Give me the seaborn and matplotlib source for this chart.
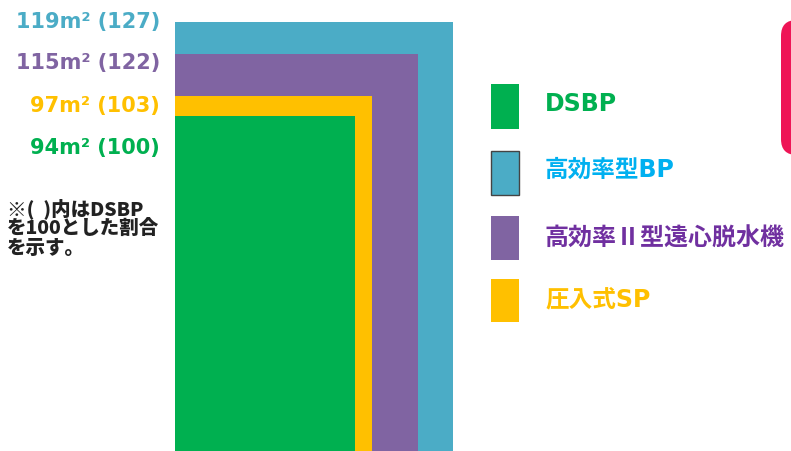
import matplotlib
matplotlib.use("Agg")
import matplotlib.pyplot as plt
from matplotlib.patches import Rectangle, FancyBboxPatch
import seaborn as sns

sns.set_theme(style="white")
plt.rcParams['font.family'] = ['DejaVu Sans', 'Noto Sans CJK JP']

# ---- data ----
methods = ["高効率型BP", "高効率Ⅱ型遠心脱水機", "圧入式SP", "DSBP"]
areas = [119, 115, 97, 94]            # m2
ratios = [127, 122, 103, 100]         # DSBP = 100
rect_widths = [278, 243, 197, 180]    # relative footprint width
rect_heights = [429, 397, 355, 335]   # relative footprint depth
fill_colors = ["#4BACC6", "#8064A2", "#FFC000", "#00B050"]
label_colors = ["#4BACC6", "#8064A2", "#FFC000", "#00B050"]
legend_order = ["DSBP", "高効率型BP", "高効率Ⅱ型遠心脱水機", "圧入式SP"]
legend_text_colors = {"DSBP": "#00B050", "高効率型BP": "#00B0F0",
                      "高効率Ⅱ型遠心脱水機": "#7030A0", "圧入式SP": "#FFC000"}
note = "※(  )内はDSBP\nを100とした割合\nを示す。"

W, H = 791, 452
fig = plt.figure(figsize=(W / 100, H / 100), dpi=100)
ax = fig.add_axes([0, 0, 1, 1])
ax.set_xlim(-175, W - 175)
ax.set_ylim(0, H)
ax.axis("off")

for m, w, h, c in zip(methods, rect_widths, rect_heights, fill_colors):
    ax.bar(0, h, width=w, align="edge", color=c, linewidth=0, zorder=2)

def fx(px):
    return px / W

def fy(py):
    return 1 - py / H

# value labels
label_y = [22, 63, 106, 148]
for a, r, c, y in zip(areas, ratios, label_colors, label_y):
    fig.text(fx(160), fy(y), f"{a}m² ({r})", color=c, fontsize=15,
             fontweight="bold", ha="right", va="center", family="DejaVu Sans")

# note
fig.text(fx(7), fy(198), note, color="#222222", fontsize=14, fontweight="heavy",
         ha="left", va="top", linespacing=1.02,
         family=['Noto Sans CJK JP', 'DejaVu Sans'])

# legend
patch_tops = [85, 152, 217, 280]
patch_h = [45, 44, 44, 43]
text_y = [104, 170, 239, 299]
for name, t, hh, ty in zip(legend_order, patch_tops, patch_h, text_y):
    c = fill_colors[methods.index(name)]
    ec = "#444444" if name == "高効率型BP" else c
    fam = ['Noto Sans CJK JP', 'DejaVu Sans'] if "Ⅱ" in name else ['DejaVu Sans', 'Noto Sans CJK JP']
    fig.patches.append(Rectangle((fx(491), fy(t + hh)), 28 / W, hh / H,
                                 transform=fig.transFigure, facecolor=c,
                                 edgecolor=ec, linewidth=1.0 if ec != c else 0))
    fig.text(fx(545), fy(ty), name, color=legend_text_colors[name],
             fontsize=17.3 if "Ⅱ" in name else 17,
             fontweight="bold", ha="left", va="center", family=fam)

# decorative red box at right edge
fig.patches.append(FancyBboxPatch((fx(781), fy(156)), 40 / W, 135 / H,
                                  boxstyle="round,pad=0,rounding_size=0.02",
                                  transform=fig.transFigure,
                                  facecolor="#EE1556", edgecolor="none",
                                  mutation_aspect=W / H))

fig.savefig("out.png", dpi=100)
